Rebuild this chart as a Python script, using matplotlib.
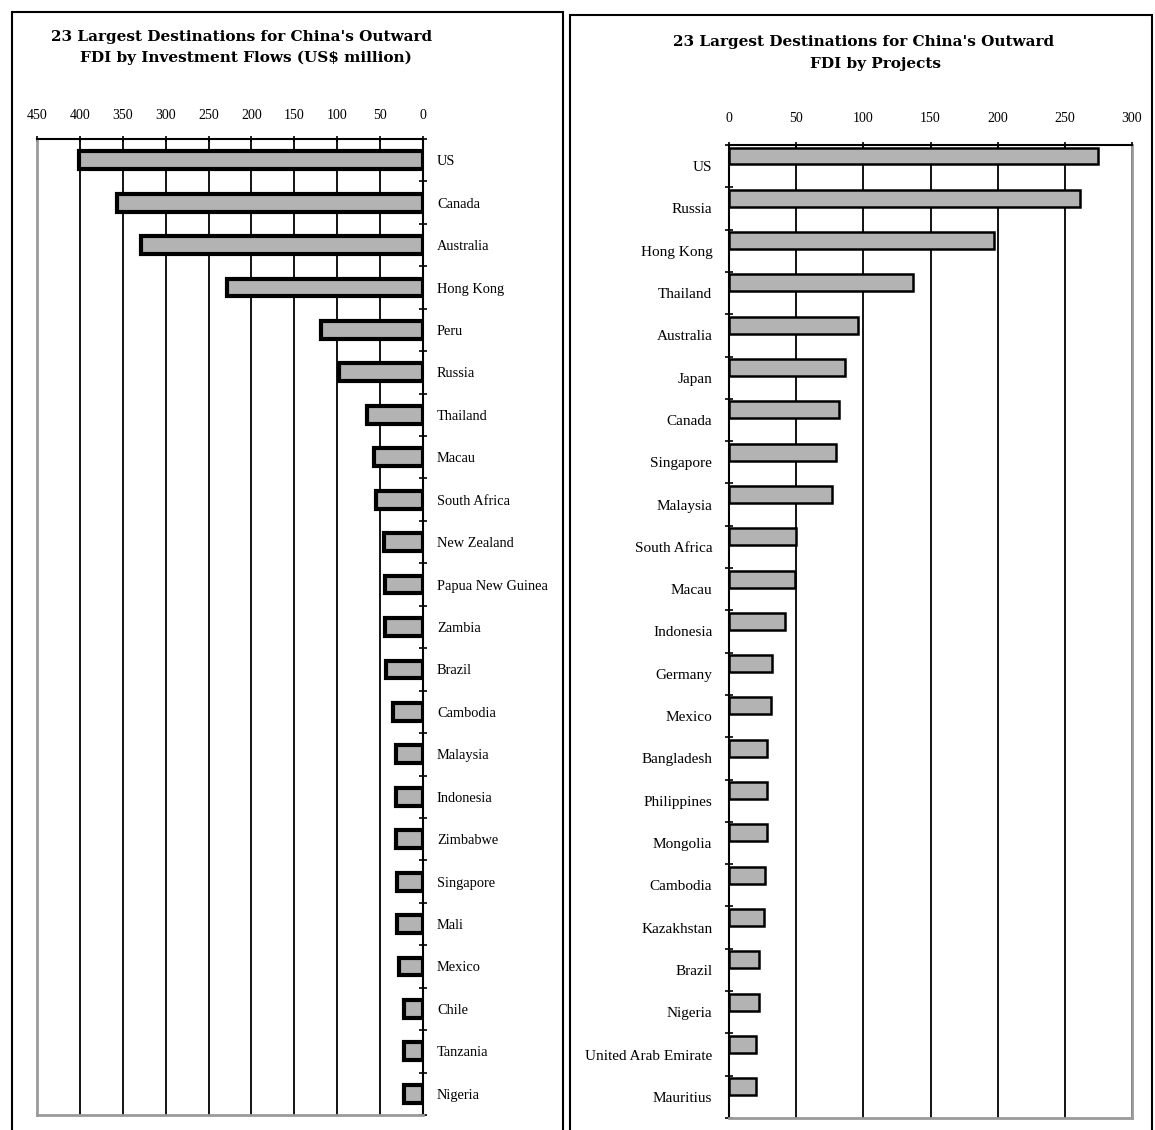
import matplotlib.pyplot as plt
import matplotlib.patches as patches
import numpy as np

plt.rcParams['font.family'] = ['Liberation Serif', 'DejaVu Serif']

# ===== Data =====
flow_countries = ["US", "Canada", "Australia", "Hong Kong", "Peru", "Russia", "Thailand",
                  "Macau", "South Africa", "New Zealand", "Papua New Guinea", "Zambia",
                  "Brazil", "Cambodia", "Malaysia", "Indonesia", "Zimbabwe", "Singapore",
                  "Mali", "Mexico", "Chile", "Tanzania", "Nigeria"]
flow_values = [401, 357, 329, 229, 119, 98, 65, 57, 55, 45, 44, 44,
               43, 35, 31, 31, 31, 30, 30, 28, 22, 22, 22]

proj_countries = ["US", "Russia", "Hong Kong", "Thailand", "Australia", "Japan", "Canada",
                  "Singapore", "Malaysia", "South Africa", "Macau", "Indonesia", "Germany",
                  "Mexico", "Bangladesh", "Philippines", "Mongolia", "Cambodia",
                  "Kazakhstan", "Brazil", "Nigeria", "United Arab Emirate", "Mauritius"]
proj_values = [275, 261, 197, 137, 96, 86, 82, 80, 77, 50, 49, 42, 32,
               31, 28, 28, 28, 27, 26, 22, 22, 20, 20]

flow_ticks = [450, 400, 350, 300, 250, 200, 150, 100, 50, 0]
proj_ticks = [0, 50, 100, 150, 200, 250, 300]

W, H = 1155, 1130
fig = plt.figure(figsize=(W / 100, H / 100), dpi=100)

# panel frames
for x0, x1, y0 in [(12, 563, 12), (570, 1152, 15)]:
    fig.add_artist(patches.Rectangle((x0 / W, -0.01), (x1 - x0) / W, 1 - y0 / H + 0.01,
                                     transform=fig.transFigure, fill=False,
                                     edgecolor='black', lw=1.5))

bar_color = '#b3b3b3'
gray = '#9a9a9a'
title_font = dict(family='DejaVu Serif', fontsize=11, fontweight='bold',
                  ha='center', va='center')

# ===== Left: investment flows =====
ax1 = fig.add_axes([37 / W, 1 - 1115 / H, (423 - 37) / W, (1115 - 139) / H])
y1 = np.arange(len(flow_countries))
ax1.barh(y1, flow_values, height=0.42, color=bar_color, edgecolor='black', lw=3, zorder=3)
ax1.set_xlim(450, 0)
ax1.set_ylim(len(flow_countries) - 0.5, -0.5)
ax1.set_xticks(flow_ticks)
ax1.xaxis.tick_top()
ax1.tick_params(axis='x', length=5, width=1.2, labelsize=10, pad=10, direction='inout')
ax1.grid(axis='x', color='black', lw=1.3, zorder=1)
ax1.yaxis.tick_right()
ax1.set_yticks(y1)
ax1.set_yticklabels(flow_countries, fontsize=10.4)
ax1.tick_params(axis='y', length=0, pad=10)
ax1.set_yticks(np.arange(len(flow_countries) + 1) - 0.5, minor=True)
ax1.tick_params(axis='y', which='minor', length=6, width=1.2, direction='inout')
for s in ['top', 'right']:
    ax1.spines[s].set_linewidth(1.5)
for s in ['left', 'bottom']:
    ax1.spines[s].set_color(gray)
    ax1.spines[s].set_linewidth(2)
ax1.set_axisbelow(True)

fig.text(242 / W, 1 - 37 / H, "23 Largest Destinations for China's Outward", **title_font)
fig.text(246 / W, 1 - 58 / H, "FDI by Investment Flows (US$ million)", **title_font)

# ===== Right: projects =====
ax2 = fig.add_axes([729 / W, 1 - 1118 / H, (1132 - 729) / W, (1118 - 145) / H])
y2 = np.arange(len(proj_countries))
# bars sit in the upper part of each category slot, as in the original
ax2.barh(y2 - 0.24, proj_values, height=0.4, color=bar_color, edgecolor='black',
         lw=1.8, zorder=3)
ax2.set_xlim(0, 300)
ax2.set_ylim(len(proj_countries) - 0.5, -0.5)
ax2.set_xticks(proj_ticks)
ax2.xaxis.tick_top()
ax2.tick_params(axis='x', length=5, width=1.2, labelsize=10, pad=12, direction='inout')
ax2.grid(axis='x', color='black', lw=1.3, zorder=1)
ax2.set_yticks(y2)
ax2.set_yticklabels(proj_countries, fontsize=11)
ax2.tick_params(axis='y', length=0, pad=12)
ax2.set_yticks(np.arange(len(proj_countries) + 1) - 0.5, minor=True)
ax2.tick_params(axis='y', which='minor', length=6, width=1.2, direction='inout')
for s in ['top', 'left']:
    ax2.spines[s].set_linewidth(1.5)
for s in ['right', 'bottom']:
    ax2.spines[s].set_color(gray)
    ax2.spines[s].set_linewidth(2)
ax2.set_axisbelow(True)

fig.text(864 / W, 1 - 42 / H, "23 Largest Destinations for China's Outward", **title_font)
fig.text(875 / W, 1 - 64 / H, "FDI by Projects", **title_font)

fig.savefig("out.png", dpi=100)
